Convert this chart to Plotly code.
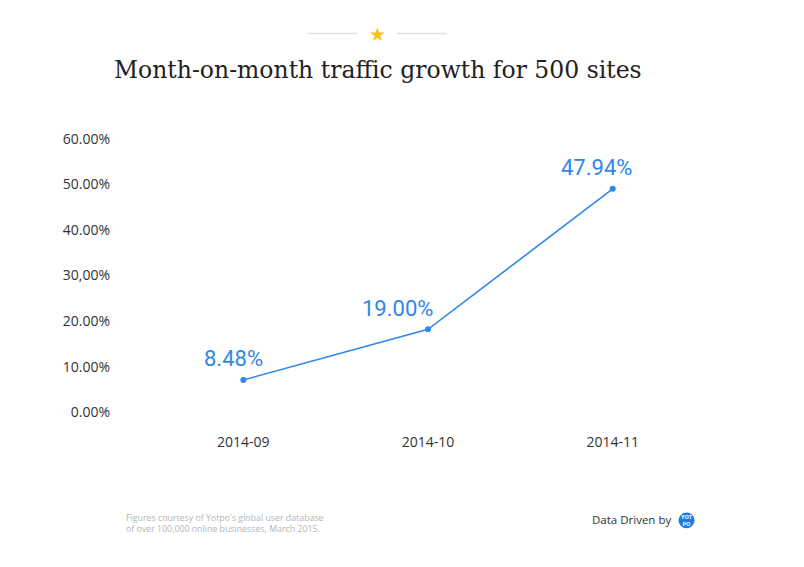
import plotly.graph_objects as go

months = ["2014-09", "2014-10", "2014-11"]
growth_plotted = [7.1, 18.2, 49.0]
growth_labels = ["8.48%", "19.00%", "47.94%"]
label_xshift = [-10, -31, -16]
ytick_vals = [0, 10, 20, 30, 40, 50, 60]
ytick_text = ["0.00%", "10.00%", "20.00%", "30,00%", "40.00%", "50.00%", "60.00%"]

W, H = 804, 567
OFF = 8  # page body margin
L, R, T, B = 150.5 - OFF, 98.5 + OFF, 124.6 - OFF, 141 + OFF
pw = W - L - R
ph = H - T - B

def px(x):
    return (x - OFF - L) / pw

def py(y):
    return 1 - (y - OFF - T) / ph

blue = "#2f86eb"

fig = go.Figure()
fig.add_trace(go.Scatter(
    x=months, y=growth_plotted, mode="lines+markers",
    line=dict(color=blue, width=1.6),
    marker=dict(color=blue, size=6),
    hoverinfo="skip", showlegend=False,
))

annotations = []
for m, v, t, xs in zip(months, growth_plotted, growth_labels, label_xshift):
    annotations.append(dict(
        x=m, y=v, text=t, showarrow=False, xshift=xs, yshift=21,
        font=dict(family="Roboto", size=22, color=blue),
        xanchor="center", yanchor="middle",
    ))

annotations += [
    dict(xref="paper", yref="paper", x=px(378), y=py(70),
         text="Month-on-month traffic growth for 500 sites", showarrow=False,
         font=dict(family="DejaVu Serif", size=23.5, color="#222222"),
         xanchor="center", yanchor="middle"),
    dict(xref="paper", yref="paper", x=px(377), y=py(33), text="★", showarrow=False,
         font=dict(family="DejaVu Sans", size=19, color="#f5c216"),
         xanchor="center", yanchor="middle"),
    dict(xref="paper", yref="paper", x=px(123), y=py(524),
         text="Figures courtesy of Yotpo's global user database<br>of over 100,000 online businesses, March 2015.",
         showarrow=False, align="left",
         font=dict(family="Open Sans", size=8.8, color="#b5b5b5"),
         xanchor="left", yanchor="middle"),
    dict(xref="paper", yref="paper", x=px(673), y=py(520), text="Data Driven by",
         showarrow=False, font=dict(family="Open Sans", size=11.5, color="#333333"),
         xanchor="right", yanchor="middle"),
    dict(xref="paper", yref="paper", x=px(687), y=py(520.5), text="<b>YOT<br>PO</b>",
         showarrow=False, font=dict(family="Open Sans", size=5.5, color="white"),
         xanchor="center", yanchor="middle"),
]

shapes = [
    dict(type="line", xref="paper", yref="paper", x0=px(307), x1=px(357), y0=py(33), y1=py(33),
         line=dict(color="#e2e2e2", width=1.5)),
    dict(type="line", xref="paper", yref="paper", x0=px(397), x1=px(447), y0=py(33), y1=py(33),
         line=dict(color="#e2e2e2", width=1.5)),
    dict(type="circle", xref="paper", yref="paper", x0=px(679), x1=px(695), y0=py(528.5), y1=py(512.5),
         fillcolor="#1b7ae8", line=dict(width=0)),
]

fig.update_layout(
    width=W, height=H,
    margin=dict(l=L, r=R, t=T, b=B),
    paper_bgcolor="white", plot_bgcolor="white",
    annotations=annotations, shapes=shapes,
    xaxis=dict(type="category", range=[-0.5, 2.5], showgrid=False, zeroline=False,
               showline=False, ticks="", tickfont=dict(family="Open Sans", size=14, color="#333333"),
               ticklabelstandoff=6),
    yaxis=dict(range=[-3, 63], tickvals=ytick_vals, ticktext=ytick_text, showgrid=False,
               zeroline=False, showline=False, ticks="",
               tickfont=dict(family="Open Sans", size=14, color="#333333"),
               ticklabelstandoff=40),
)

fig.write_html("out.html")
